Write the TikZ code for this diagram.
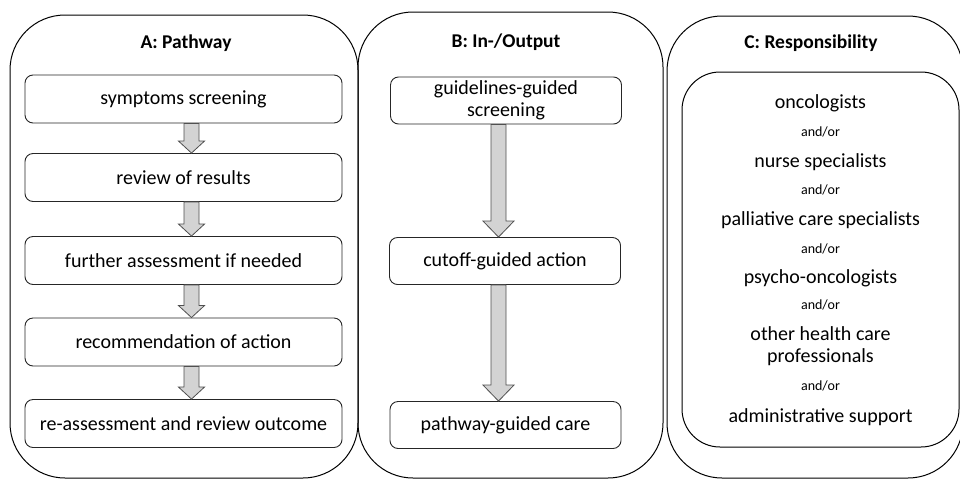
\documentclass[tikz,border=0pt]{standalone}
\usepackage{fontspec}
\setmainfont{Carlito}
\usetikzlibrary{calc}
\definecolor{arrfill}{RGB}{211,211,211}
\definecolor{arrdraw}{RGB}{80,80,80}
\tikzset{
  panel/.style={draw=black, line width=1pt, rounded corners=55pt, inner sep=0pt},
  innerpanel/.style={draw=black, line width=1pt, rounded corners=38pt, inner sep=0pt},
  stepbox/.style={draw=black!85, line width=0.9pt, rounded corners=8pt, inner sep=0pt, align=center,
    font=\fontsize{20}{22}\selectfont},
  ttl/.style={font=\bfseries\fontsize{19.5}{22}\selectfont, inner sep=0pt},
  role/.style={font=\fontsize{20}{22}\selectfont, inner sep=0pt, align=center},
  andor/.style={font=\fontsize{14}{16}\selectfont, inner sep=0pt},
  blk/.style={fill=arrfill, draw=arrdraw, line width=0.8pt, line join=miter}
}
% block arrow: from node #1 to node #2, axis coordinate #3, shaft half #4, head half #5, head length #6
\newcommand\blockarr[6]{%
  \draw[blk] ($(#1.south -| #3)+(-#4,0)$) -- ($(#1.south -| #3)+(#4,0)$)
    -- ($(#2.north -| #3)+(#4,-#6)$) -- ($(#2.north -| #3)+(#5,-#6)$)
    -- (#2.north -| #3)
    -- ($(#2.north -| #3)+(-#5,-#6)$) -- ($(#2.north -| #3)+(-#4,-#6)$) -- cycle;}
\begin{document}
\begin{tikzpicture}[x=1pt,y=-1pt]
\useasboundingbox (0,0) rectangle (960,480);
% panels
\node[panel, minimum width=348pt, minimum height=463pt] (pa) at (184,246.5) {};
\node[panel, minimum width=305pt, minimum height=466pt] (pb) at (510.5,245) {};
\node[panel, minimum width=296pt, minimum height=462pt] (pc) at (815,247) {};
% titles
\node[ttl] (ta) at (186,43) {A: Pathway};
\node[ttl] (tb) at (506,42) {B: In-/Output};
\node[ttl] (tc) at (811,43) {C: Responsibility};
% A boxes
\node[stepbox, minimum width=317pt, minimum height=48pt] (a1) at (183.5,99) {symptoms screening};
\node[stepbox, minimum width=317pt, minimum height=48pt] (a2) at (183.5,177.5) {review of results};
\node[stepbox, minimum width=317pt, minimum height=48pt] (a3) at (183.5,260.5) {further assessment if needed};
\node[stepbox, minimum width=317pt, minimum height=48pt] (a4) at (183.5,342) {recommendation of action};
\node[stepbox, minimum width=317pt, minimum height=48pt] (a5) at (183.5,423.5) {re-assessment and review outcome};
\coordinate (ax) at (191.5,0);
\blockarr{a1}{a2}{ax}{7.5}{13}{12}
\blockarr{a2}{a3}{ax}{7.5}{13}{12}
\blockarr{a3}{a4}{ax}{7.5}{13}{12}
\blockarr{a4}{a5}{ax}{7.5}{13}{12}
% B boxes
\node[stepbox, minimum width=231pt, minimum height=47pt] (b1) at (506,100.5) {guidelines-guided\\screening};
\node[stepbox, minimum width=231pt, minimum height=47pt] (b2) at (505,261) {cutoff-guided action};
\node[stepbox, minimum width=231pt, minimum height=47pt] (b3) at (505.5,425) {pathway-guided care};
\coordinate (bx) at (498.5,0);
\blockarr{b1}{b2}{bx}{7.5}{15.5}{16}
\blockarr{b2}{b3}{bx}{7.5}{15.5}{16}
% C inner
\node[innerpanel, minimum width=277pt, minimum height=375pt] (ci) at (820.5,259.5) {};
\node[role] (c1) at (820.5,103) {oncologists};
\node[andor] (c2) at (820.5,132) {and/or};
\node[role] (c3) at (820.5,162) {nurse specialists};
\node[andor] (c4) at (820.5,190) {and/or};
\node[role] (c5) at (820.5,220) {palliative care specialists};
\node[andor] (c6) at (820.5,249) {and/or};
\node[role] (c7) at (820.5,278) {psycho-oncologists};
\node[andor] (c8) at (820.5,305) {and/or};
\node[role] (c9) at (820.5,346.5) {other health care\\professionals};
\node[andor] (c10) at (820.5,386) {and/or};
\node[role] (c11) at (820.5,417) {administrative support};
\end{tikzpicture}
\end{document}
